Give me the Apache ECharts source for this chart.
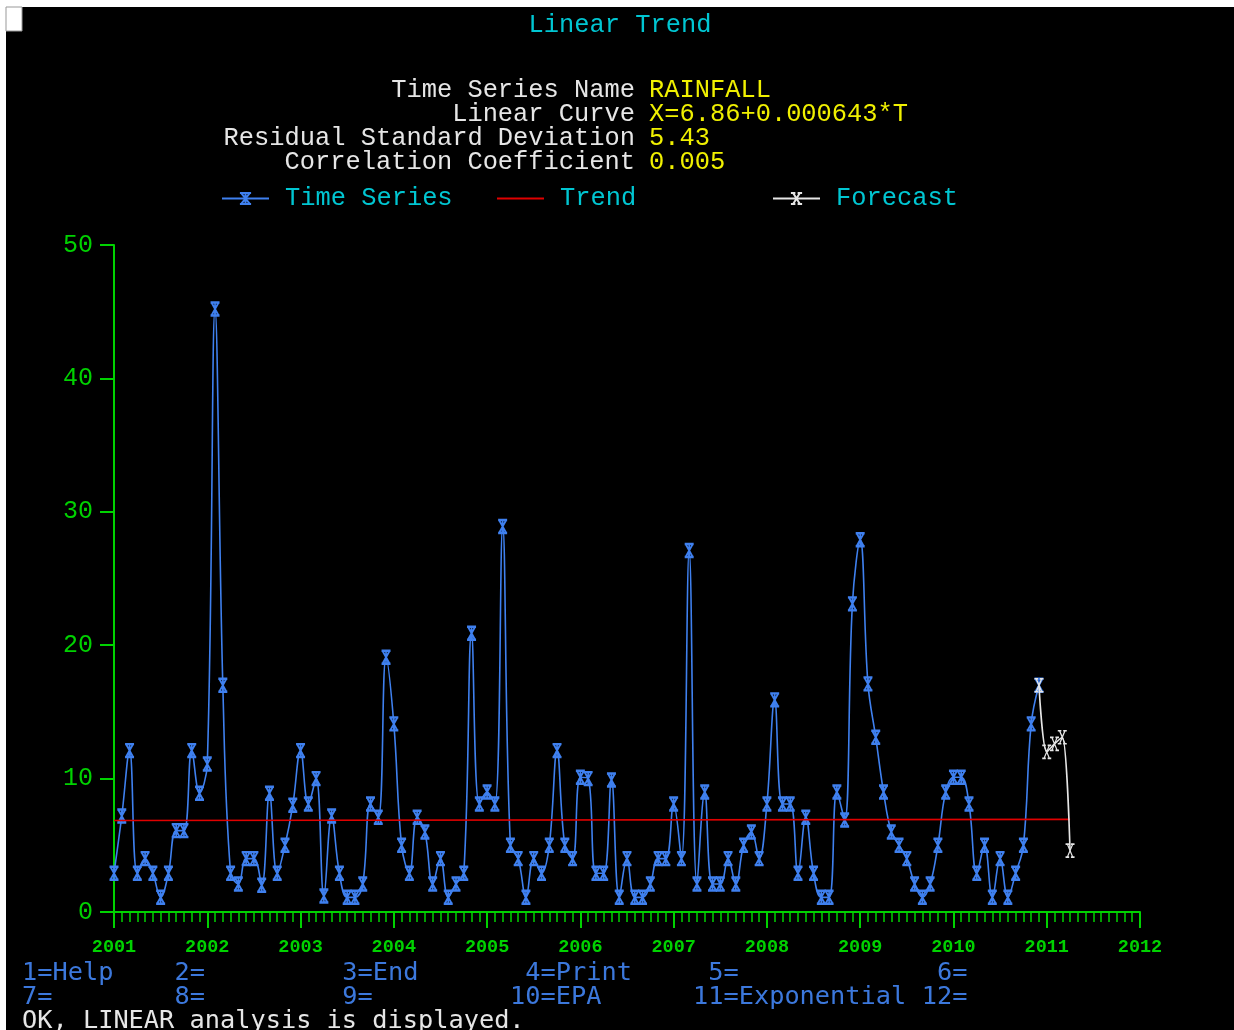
<!DOCTYPE html>
<html>
<head>
<meta charset="utf-8">
<title>Linear Trend</title>
<script src="https://cdn.jsdelivr.net/npm/echarts@6/dist/echarts.min.js"></script>
<style>
  html, body { margin: 0; padding: 0; background: #fff; }
  #chart { width: 1234px; height: 1030px; }
</style>
</head>
<body>
<div id="chart"></div>
<script>
// monthly rainfall, Jan 2001 .. Dec 2010 (month index 0..119)
const rainfall = [
  2.9, 7.2, 12.1, 2.9, 4.0, 2.9, 1.1, 2.9, 6.1, 6.1, 12.1, 8.9,
  11.1, 45.2, 17.0, 2.9, 2.1, 4.0, 4.0, 2.0, 8.9, 2.9, 5.0, 8.0,
  12.1, 8.1, 10.0, 1.2, 7.2, 2.9, 1.1, 1.1, 2.1, 8.1, 7.1, 19.1,
  14.1, 5.0, 2.9, 7.1, 6.0, 2.1, 4.0, 1.1, 2.1, 2.9, 20.9, 8.1,
  9.0, 8.1, 28.9, 5.0, 4.0, 1.1, 4.0, 2.9, 5.0, 12.1, 5.0, 4.0,
  10.1, 10.0, 2.9, 2.9, 9.9, 1.1, 4.0, 1.1, 1.1, 2.1, 4.0, 4.0,
  8.1, 4.0, 27.1, 2.1, 9.0, 2.1, 2.1, 4.0, 2.1, 5.0, 6.0, 4.0,
  8.1, 15.9, 8.1, 8.1, 2.9, 7.1, 2.9, 1.1, 1.1, 9.0, 6.9, 23.1,
  27.9, 17.1, 13.1, 9.0, 6.0, 5.0, 4.0, 2.1, 1.1, 2.1, 5.0, 9.0,
  10.1, 10.1, 8.1, 2.9, 5.0, 1.1, 4.0, 1.1, 2.9, 5.0, 14.1, 17.0
]
// forecast continues from the last observed month (index 119)
const forecastStart = 119
const forecast = [17.0, 12.0, 12.6, 13.1, 4.6]
// fitted trend, read at both ends of the drawn line
const trendEnds = [[0, 6.86], [123, 6.94]]

const firstYear = 2001
const yTicks = [0, 10, 20, 30, 40, 50]

const headerLabels = ['Time Series Name', 'Linear Curve', 'Residual Standard Deviation', 'Correlation Coefficient']
const headerValues = ['RAINFALL', 'X=6.86+0.000643*T', '5.43', '0.005']

const keysRow1 = [[0, '1=Help'], [10, '2='], [21, '3=End'], [33, '4=Print'], [45, '5='], [60, '6=']]
const keysRow2 = [[0, '7='], [10, '8='], [21, '9='], [32, '10=EPA'], [44, '11=Exponential'], [59, '12=']]
const statusLine = 'OK, LINEAR analysis is displayed.'

const GREEN = '#00d200'
const BLUE = '#3f80ef'
const CYAN = '#00c6d2'
const YELLOW = '#f0f000'
const RED = '#e00000'
const WHITE = '#e6e6e6'
const KEYBLUE = '#3c78dc'
const VFONT = '"Liberation Mono", "DejaVu Sans Mono", monospace'
const TFONT = '"DejaVu Sans Mono", "Liberation Mono", monospace'
const CELL = 15.25

const starPath = 'path://M0,0H10M0,14H10M1,0L9,14M9,0L1,14M5,0V14'
const xPath = 'path://M0,0H4M6,0H10M0,14H4M6,14H10M2,0L8,14M8,0L2,14'

const chart = echarts.init(document.getElementById('chart'))

const graphics = [
  // white frame around the terminal window
  { type: 'rect', shape: { x: 0, y: 0, width: 1234, height: 7 }, style: { fill: '#fff' }, silent: true },
  { type: 'rect', shape: { x: 0, y: 0, width: 6, height: 1030 }, style: { fill: '#fff' }, silent: true },
  { type: 'rect', shape: { x: 6, y: 7, width: 16, height: 24 }, style: { fill: '#fff', stroke: '#999', lineWidth: 1 }, silent: true },
  {
    type: 'text', x: 620, y: 25,
    style: { text: 'Linear Trend', fill: CYAN, font: '25.4px ' + VFONT, textAlign: 'center', textVerticalAlign: 'middle' }
  }
]
headerLabels.forEach(function(t, i) {
  graphics.push({
    type: 'text', x: 635, y: 90 + i * 24,
    style: { text: t, fill: WHITE, font: '25.4px ' + VFONT, textAlign: 'right', textVerticalAlign: 'middle' }
  })
  graphics.push({
    type: 'text', x: 649, y: 90 + i * 24,
    style: { text: headerValues[i], fill: YELLOW, font: '25.4px ' + VFONT, textAlign: 'left', textVerticalAlign: 'middle' }
  })
})
keysRow1.forEach(function(k) {
  graphics.push({
    type: 'text', x: 22 + k[0] * CELL, y: 973,
    style: { text: k[1], fill: KEYBLUE, font: '25.3px ' + TFONT, textAlign: 'left', textVerticalAlign: 'middle' }
  })
})
keysRow2.forEach(function(k) {
  graphics.push({
    type: 'text', x: 22 + k[0] * CELL, y: 997,
    style: { text: k[1], fill: KEYBLUE, font: '25.3px ' + TFONT, textAlign: 'left', textVerticalAlign: 'middle' }
  })
})
graphics.push({
  type: 'text', x: 22, y: 1021,
  style: { text: statusLine, fill: WHITE, font: '25.3px ' + TFONT, textAlign: 'left', textVerticalAlign: 'middle' }
})

function legendAt(name, left, lineOnly) {
  return {
    data: lineOnly ? [{ name: name, icon: 'rect' }] : [name],
    left: left,
    top: 186,
    padding: 0,
    itemWidth: 47,
    itemHeight: lineOnly ? 2 : 14,
    selectedMode: false,
    textStyle: {
      color: CYAN,
      fontFamily: VFONT,
      fontSize: 25.4,
      padding: [0, 0, 0, 11]
    }
  }
}

chart.setOption({
  backgroundColor: '#000',
  animation: false,
  graphic: graphics,
  legend: [
    legendAt('Time Series', 221),
    legendAt('Trend', 497, true),
    legendAt('Forecast', 772)
  ],
  grid: {
    left: 114,
    right: 94,
    top: 245,
    bottom: 118
  },
  xAxis: {
    type: 'value',
    min: 0,
    max: 132,
    interval: 12,
    axisLine: { lineStyle: { color: GREEN, width: 2 } },
    axisTick: { show: true, length: 16, lineStyle: { color: GREEN, width: 2 } },
    minorTick: { show: true, splitNumber: 12, length: 10, lineStyle: { color: GREEN, width: 1.5 } },
    splitLine: { show: false },
    axisLabel: {
      color: GREEN,
      fontFamily: VFONT,
      fontSize: 18.5,
      fontWeight: 'bold',
      margin: 26,
      formatter: function(v) { return String(firstYear + v / 12) }
    }
  },
  yAxis: {
    type: 'value',
    min: yTicks[0],
    max: yTicks[yTicks.length - 1],
    interval: 10,
    axisLine: { show: true, lineStyle: { color: GREEN, width: 2 } },
    axisTick: { show: true, length: 14, lineStyle: { color: GREEN, width: 2 } },
    splitLine: { show: false },
    axisLabel: {
      color: GREEN,
      fontFamily: VFONT,
      fontSize: 25,
      margin: 21
    }
  },
  series: [
    {
      name: 'Time Series',
      type: 'line',
      smooth: 0.4,
      data: rainfall.map(function(v, i) { return [i, v] }),
      symbol: starPath,
      symbolSize: [9, 13],
      showAllSymbol: true,
      lineStyle: { color: BLUE, width: 1.6 },
      itemStyle: { color: BLUE, borderColor: BLUE, borderWidth: 2 },
      z: 2
    },
    {
      name: 'Trend',
      type: 'line',
      data: trendEnds,
      symbol: 'none',
      lineStyle: { color: RED, width: 1.6 },
      itemStyle: { color: RED },
      z: 3
    },
    {
      name: 'Forecast',
      type: 'line',
      smooth: 0.3,
      data: forecast.map(function(v, i) { return [forecastStart + i, v] }),
      symbol: xPath,
      symbolSize: [9, 13],
      showAllSymbol: true,
      lineStyle: { color: WHITE, width: 1.6 },
      itemStyle: { color: WHITE, borderColor: WHITE, borderWidth: 1.4 },
      z: 4
    }
  ]
})
</script>
</body>
</html>
